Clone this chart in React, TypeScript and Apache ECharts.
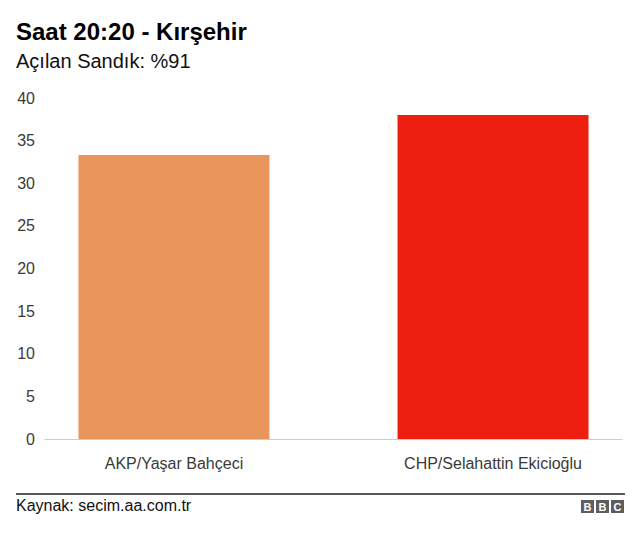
import React, { useEffect, useRef } from "react";
import * as echarts from "echarts";

const titleText = "Saat 20:20 - Kırşehir";
const subtitleText = "Açılan Sandık: %91";
const sourceText = "Kaynak: secim.aa.com.tr";
const categories = ["AKP/Yaşar Bahçeci", "CHP/Selahattin Ekicioğlu"];
const akpValues: (number | string)[] = [33.3, "-"];
const chpValues: (number | string)[] = ["-", 38.0];
const seriesColors = ["#E9965D", "#EC1F10"];
const yMin = 0;
const yMax = 40;
const yInterval = 5;
const logoLetters = ["B", "B", "C"];

const FONT = "'Liberation Sans', Arial, Helvetica, sans-serif";

export default function App() {
  const ref = useRef<HTMLDivElement>(null);

  useEffect(() => {
    if (!ref.current) return;
    const chart = echarts.init(ref.current, undefined, { renderer: "svg" });

    const barLabel = {
      show: true,
      position: "bottom",
      distance: 16,
      formatter: "{b}",
      fontSize: 16,
      fontFamily: FONT,
      color: "#3a3a3a",
    };

    const logo = logoLetters.map((ch, i) => ({
      type: "group",
      x: 581 + i * 15,
      y: 500,
      children: [
        { type: "rect", shape: { x: 0, y: 0, width: 13, height: 13 }, style: { fill: "#5e5e5e" } },
        {
          type: "text",
          x: 6.5,
          y: 7,
          style: {
            text: ch,
            fill: "#ffffff",
            fontSize: 11,
            fontWeight: "bold",
            fontFamily: FONT,
            align: "center",
            verticalAlign: "middle",
          },
        },
      ],
    }));

    chart.setOption({
      animation: false,
      backgroundColor: "#ffffff",
      grid: { left: 45, right: 18, top: 98, bottom: 98 },
      xAxis: {
        type: "category",
        data: categories,
        axisLine: { show: true, lineStyle: { color: "#cccccc", width: 1 } },
        axisTick: { show: false },
        axisLabel: { show: false },
        splitLine: { show: false },
      },
      yAxis: {
        type: "value",
        min: yMin,
        max: yMax,
        interval: yInterval,
        axisLine: { show: false },
        axisTick: { show: false },
        splitLine: { show: false },
        axisLabel: { fontSize: 16, fontFamily: FONT, color: "#3a3a3a", margin: 10 },
      },
      series: [
        {
          type: "bar",
          name: "AKP",
          data: akpValues,
          barWidth: 191,
          barGap: "-84%",
          itemStyle: { color: seriesColors[0] },
          label: barLabel,
        },
        {
          type: "bar",
          name: "CHP",
          data: chpValues,
          barWidth: 191,
          barGap: "-84%",
          itemStyle: { color: seriesColors[1] },
          label: barLabel,
        },
      ],
      graphic: [
        {
          type: "text",
          x: 16,
          y: 31,
          style: {
            text: titleText,
            fontSize: 24,
            fontWeight: "bold",
            fontFamily: FONT,
            fill: "#000000",
            align: "left",
            verticalAlign: "middle",
          },
        },
        {
          type: "text",
          x: 16,
          y: 61,
          style: {
            text: subtitleText,
            fontSize: 20,
            fontFamily: FONT,
            fill: "#111111",
            align: "left",
            verticalAlign: "middle",
          },
        },
        {
          type: "line",
          shape: { x1: 16, y1: 494, x2: 625, y2: 494 },
          style: { stroke: "#222222", lineWidth: 1.5 },
        },
        {
          type: "text",
          x: 16,
          y: 505,
          style: {
            text: sourceText,
            fontSize: 16,
            fontFamily: FONT,
            fill: "#111111",
            align: "left",
            verticalAlign: "middle",
          },
        },
        ...logo,
      ],
    });

    return () => chart.dispose();
  }, []);

  return (
    <div
      ref={ref}
      style={{ position: "fixed", left: 0, top: 0, width: 640, height: 537, background: "#fff" }}
    />
  );
}
